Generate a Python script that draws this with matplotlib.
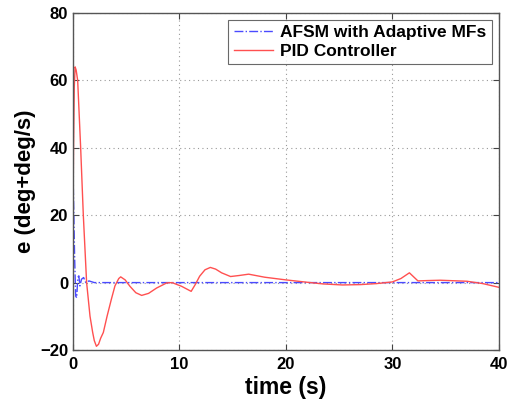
import matplotlib
matplotlib.use("Agg")
import matplotlib.pyplot as plt

plt.rcParams['font.family'] = ['Liberation Sans', 'DejaVu Sans']
plt.rcParams['font.weight'] = 'bold'

# AFSM with Adaptive MFs
t_afsm = [0, 0.08, 0.15, 0.25, 0.35, 0.45, 0.55, 0.65, 0.8, 1.0, 1.2, 1.5, 2.0, 5, 10, 20, 30, 40]
e_afsm = [33, 20, 8, -4, -4.5, 1.5, 2, -1, 1, 1.5, 0, 0.5, 0, 0, 0, 0, 0, 0]

# PID Controller
t_pid = [0, 0.05, 0.12, 0.2, 0.3, 0.44, 0.72, 0.97, 1.28, 1.6, 1.85, 2.0, 2.2, 2.4, 2.6,
         2.85, 3.2, 3.6, 3.94, 4.1, 4.3, 4.48, 4.9, 5.35, 5.9, 6.45, 7.1, 7.86, 8.8, 9.3,
         10.2, 11.1, 11.5, 11.9, 12.4, 12.9, 13.4, 13.96, 14.8, 15.6, 16.5, 18, 20, 22,
         23.5, 25.3, 27, 28.5, 30, 30.8, 31.6, 32.4, 33.3, 34.5, 37, 38.5, 40]
e_pid = [20, 40, 58, 64, 63, 60, 40, 20, 0, -10, -14.8, -17.2, -18.9, -18.3, -16.5,
         -14.8, -10, -5, -1, 0, 1.2, 1.7, 0.8, -1.1, -3, -3.8, -3.2, -1.6, -0.1, 0,
         -1.1, -2.6, -0.5, 1.9, 3.8, 4.5, 4.0, 2.9, 1.8, 2.1, 2.5, 1.6, 0.8, 0.1,
         -0.4, -0.7, -0.6, -0.3, 0.2, 1.2, 2.9, 0.5, 0.6, 0.7, 0.4, -0.3, -1.4]

x_ticks = [0, 10, 20, 30, 40]
y_ticks = [-20, 0, 20, 40, 60, 80]

fig = plt.figure(figsize=(5.09, 4.05), dpi=100)
ax = fig.add_axes([0.1434, 0.1358, 0.8366, 0.8322])

ax.plot(t_afsm, e_afsm, color='#4a4aff', linestyle='-.', linewidth=1.0,
        label='AFSM with Adaptive MFs')
ax.plot(t_pid, e_pid, color='#ff5050', linestyle='-', linewidth=1.0,
        label='PID Controller')

ax.set_xlim(0, 40)
ax.set_ylim(-20, 80)
ax.set_xticks(x_ticks)
ax.set_yticks(y_ticks)
ax.tick_params(direction='in', top=True, right=True, labelsize=12, length=4,
               color='#444444')
ax.tick_params(axis='x', pad=5)
for lab in ax.get_xticklabels() + ax.get_yticklabels():
    lab.set_fontweight('bold')
for s in ax.spines.values():
    s.set_color('#555555')
    s.set_linewidth(1.0)
ax.grid(True, linestyle=(0, (1, 3)), color='#999999', linewidth=0.8)

ax.set_xlabel('time (s)', fontsize=16.5, fontweight='bold', labelpad=3)
ax.set_ylabel('e (deg+deg/s)', fontsize=16, fontweight='bold', labelpad=3)

leg = ax.legend(loc='upper right', frameon=True, fancybox=False,
                edgecolor='#444444', handlelength=2.3, borderpad=0.3,
                labelspacing=0.2, handletextpad=0.4, borderaxespad=0.4,
                prop={'weight': 'bold', 'size': 12.5})
leg.get_frame().set_linewidth(0.8)

fig.savefig('out.png', dpi=100)
